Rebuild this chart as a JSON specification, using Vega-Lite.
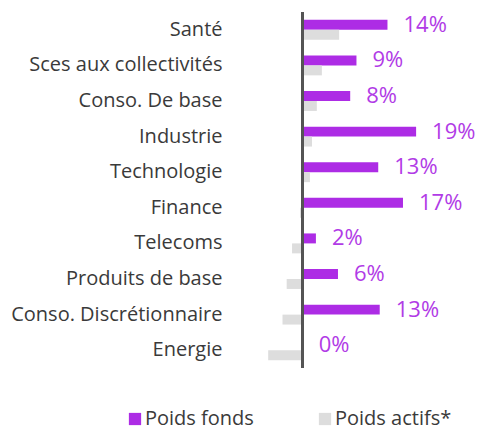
{
  "$schema": "https://vega.github.io/schema/vega-lite/v6.json",
  "autosize": {"type": "none"},
  "padding": {"left": 267, "top": 12, "right": 45, "bottom": 60},
  "width": 167,
  "height": 356,
  "config": {"view": {"stroke": null}, "font": "Open Sans"},
  "data": {"values": [
    {"secteur": "Santé", "serie": "Poids fonds", "valeur": 0.142},
    {"secteur": "Santé", "serie": "Poids actifs*", "valeur": 0.061},
    {"secteur": "Sces aux collectivités", "serie": "Poids fonds", "valeur": 0.09},
    {"secteur": "Sces aux collectivités", "serie": "Poids actifs*", "valeur": 0.032},
    {"secteur": "Conso. De base", "serie": "Poids fonds", "valeur": 0.0795},
    {"secteur": "Conso. De base", "serie": "Poids actifs*", "valeur": 0.0235},
    {"secteur": "Industrie", "serie": "Poids fonds", "valeur": 0.19},
    {"secteur": "Industrie", "serie": "Poids actifs*", "valeur": 0.0155},
    {"secteur": "Technologie", "serie": "Poids fonds", "valeur": 0.1265},
    {"secteur": "Technologie", "serie": "Poids actifs*", "valeur": 0.012},
    {"secteur": "Finance", "serie": "Poids fonds", "valeur": 0.168},
    {"secteur": "Finance", "serie": "Poids actifs*", "valeur": -0.0045},
    {"secteur": "Telecoms", "serie": "Poids fonds", "valeur": 0.022},
    {"secteur": "Telecoms", "serie": "Poids actifs*", "valeur": -0.018},
    {"secteur": "Produits de base", "serie": "Poids fonds", "valeur": 0.059},
    {"secteur": "Produits de base", "serie": "Poids actifs*", "valeur": -0.027},
    {"secteur": "Conso. Discrétionnaire", "serie": "Poids fonds", "valeur": 0.129},
    {"secteur": "Conso. Discrétionnaire", "serie": "Poids actifs*", "valeur": -0.034},
    {"secteur": "Energie", "serie": "Poids fonds", "valeur": 0.0},
    {"secteur": "Energie", "serie": "Poids actifs*", "valeur": -0.058}
  ]},
  "encoding": {
    "y": {
      "field": "secteur", "type": "nominal", "sort": null,
      "scale": {"paddingInner": 0.44, "paddingOuter": 0.22},
      "axis": {"title": null, "domain": false, "ticks": false, "labelPadding": 45, "labelFontSize": 20, "labelColor": "#3a3a3a", "labelFont": "Open Sans", "labelLimit": 260}
    },
    "yOffset": {"field": "serie", "type": "nominal", "scale": {"domain": ["Poids fonds", "Poids actifs*"], "paddingInner": 0, "paddingOuter": 0}},
    "x": {"field": "valeur", "type": "quantitative", "scale": {"domain": [-0.06, 0.22], "nice": false, "zero": false}, "axis": null}
  },
  "layer": [
    {
      "mark": {"type": "bar"},
      "encoding": {
        "color": {
          "field": "serie", "type": "nominal",
          "scale": {"domain": ["Poids fonds", "Poids actifs*"], "range": ["#AD2CE5", "#DDDDDD"]},
          "legend": {
            "title": null, "orient": "none", "direction": "horizontal",
            "legendX": -142, "legendY": 397,
            "symbolType": "square", "symbolSize": 150, "symbolStrokeWidth": 0,
            "labelFontSize": 20, "labelColor": "#3a3a3a", "labelFont": "Open Sans",
            "labelOffset": 0, "columnPadding": 61, "labelLimit": 200
          }
        }
      }
    },
    {
      "transform": [{"filter": "datum.serie === 'Poids fonds'"}],
      "mark": {"type": "text", "align": "left", "baseline": "middle", "dx": 16, "fontSize": 22, "color": "#B13BE6", "font": "Open Sans"},
      "encoding": {
        "text": {"field": "valeur", "type": "quantitative", "format": ".0%"}
      }
    },
    {
      "mark": {"type": "rule", "color": "#555555", "strokeWidth": 2},
      "encoding": {"x": {"datum": 0}, "y": null, "yOffset": null}
    }
  ]
}
